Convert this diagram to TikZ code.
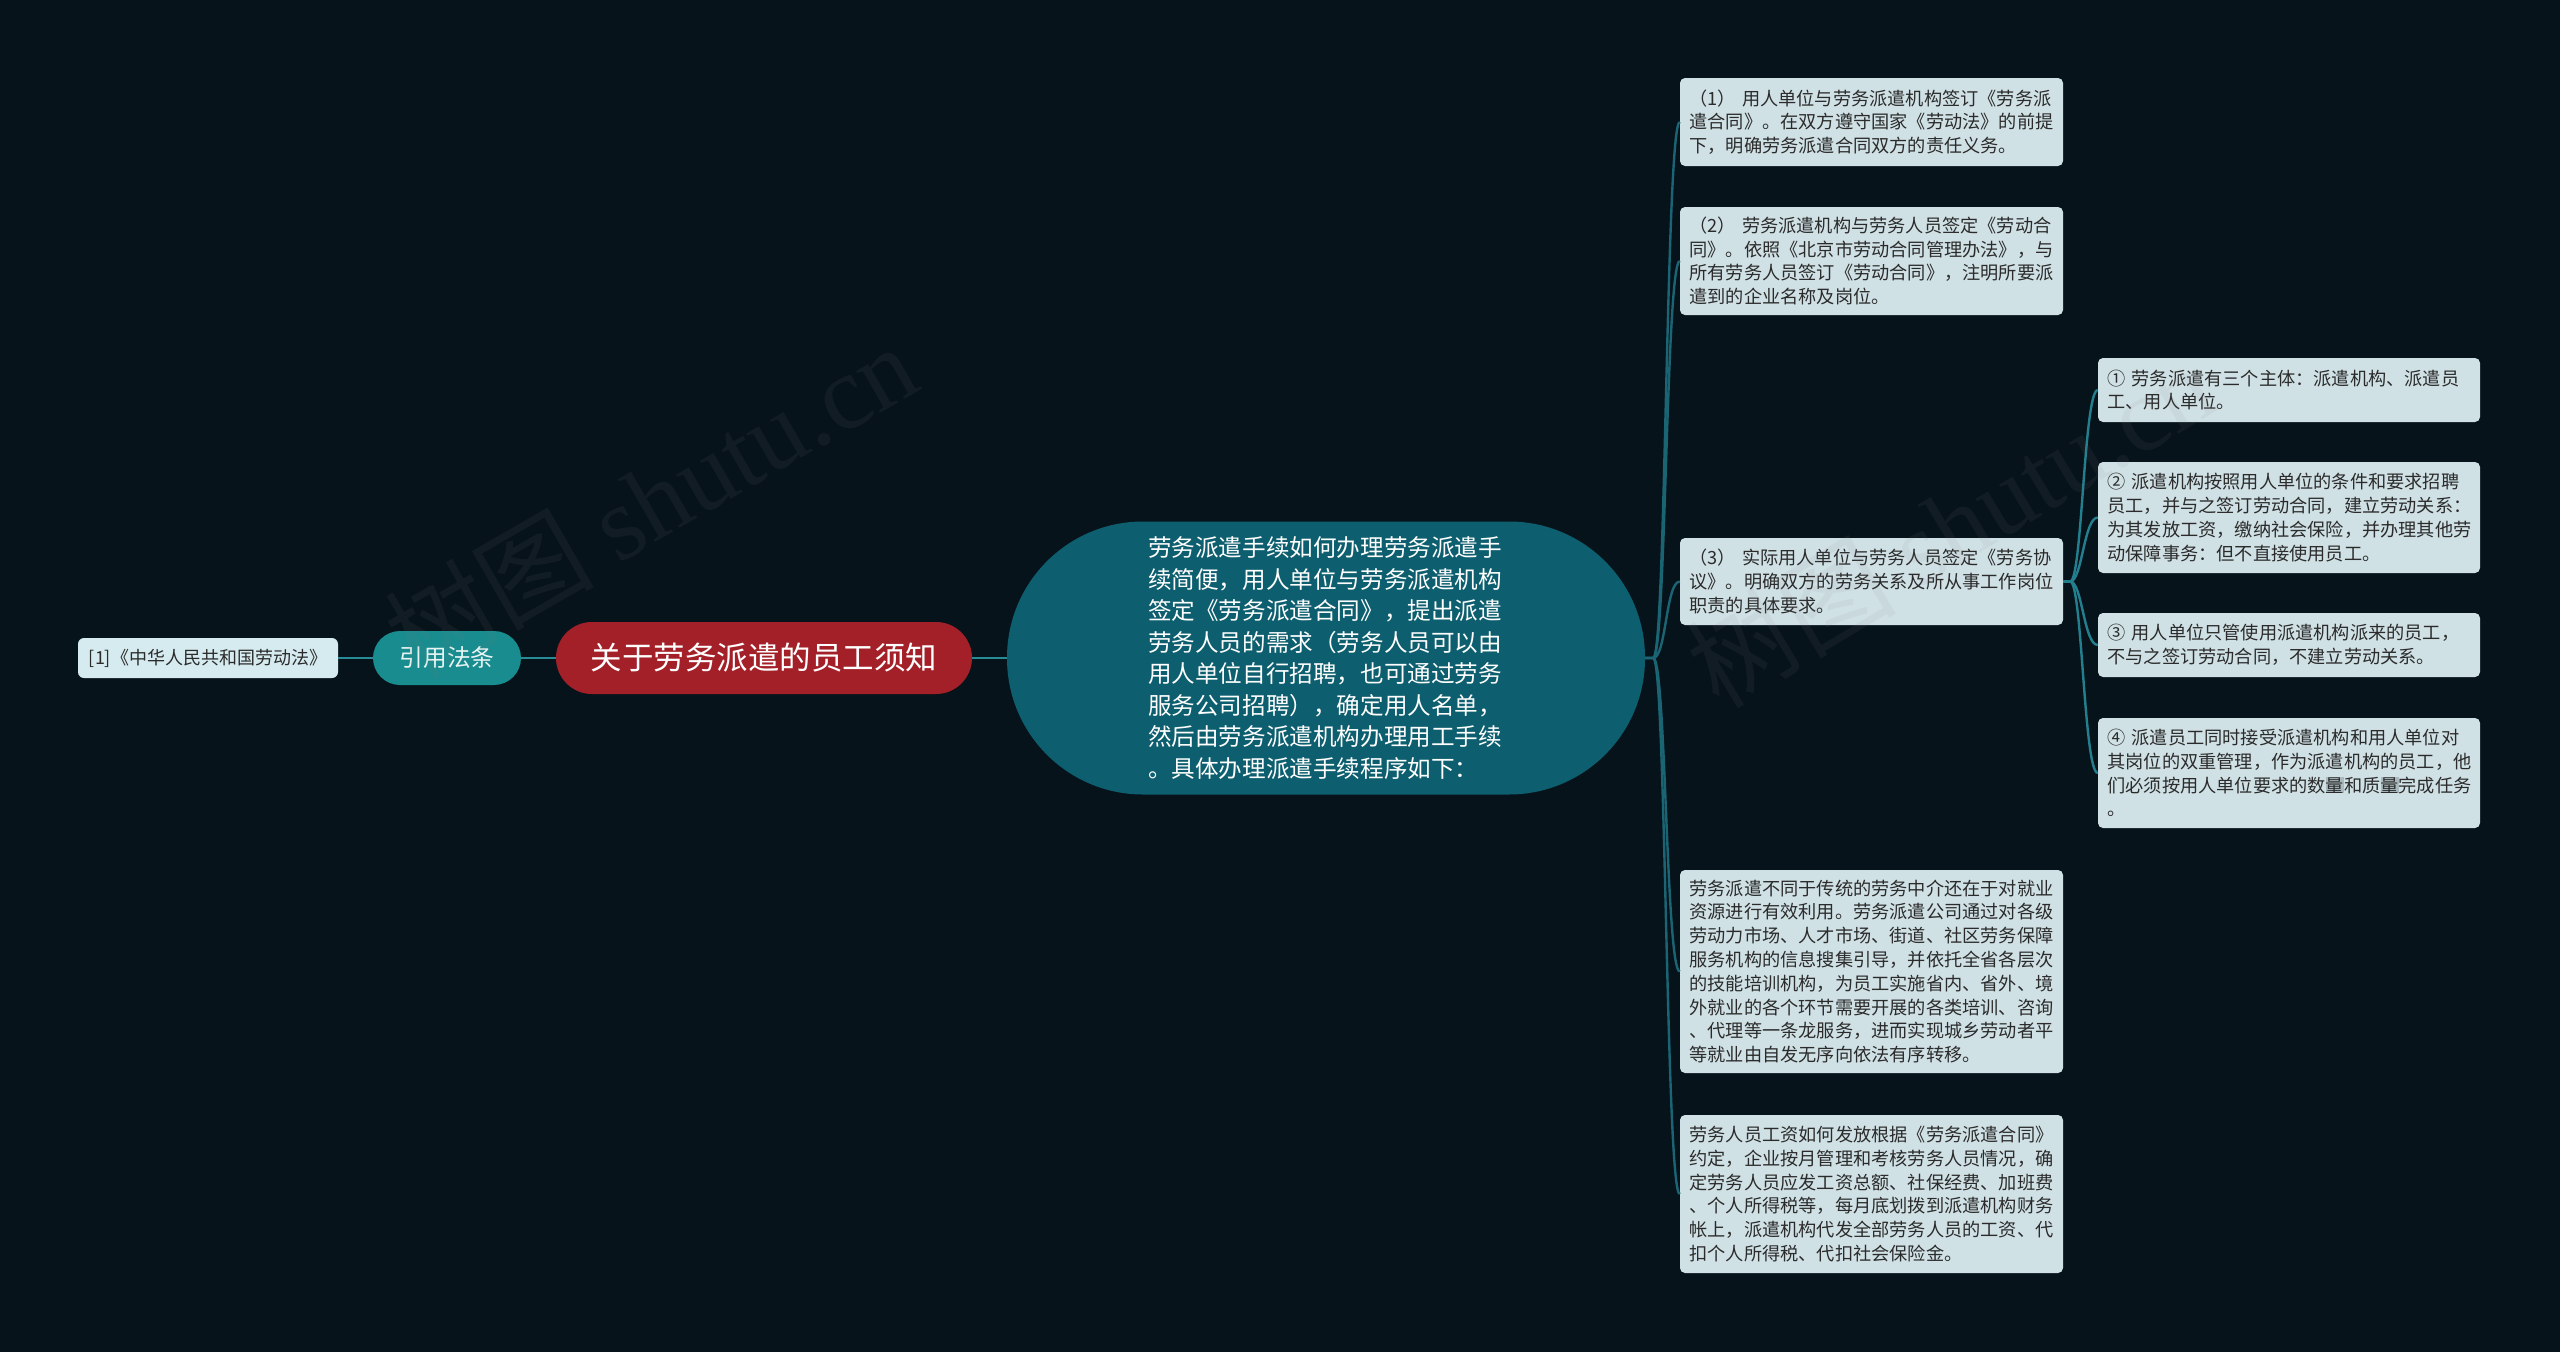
\documentclass[tikz,border=0pt]{standalone}
\usepackage{fontspec}
\setmainfont{Noto Sans CJK SC}
\newfontfamily\cjk{Noto Sans CJK SC}
\newfontfamily\wmserif{Liberation Serif}
\usetikzlibrary{calc}
\definecolor{bgc}{HTML}{07131B}
\definecolor{boxc}{HTML}{D0E1E6}
\definecolor{leafc}{HTML}{D6EBEF}
\definecolor{citec}{HTML}{188C8F}
\definecolor{rootc}{HTML}{A32028}
\definecolor{mainc}{HTML}{0D5E6E}
\definecolor{connl}{HTML}{288C96}
\definecolor{connr}{HTML}{1B6474}
\definecolor{connc}{HTML}{237F8E}
\definecolor{txtc}{HTML}{2B2B2B}
\definecolor{hlc}{HTML}{A9B9BD}
\newcommand{\hlq}{{\setlength{\fboxsep}{0pt}\colorbox{hlc}{量}}}
\tikzset{
  x=1pt, y=1pt,
  rbox/.style={rectangle, rounded corners=5pt, fill=boxc, text=txtc,
    text width=364pt, align=left, inner xsep=9.5pt, inner ysep=0pt,
    font=\fontsize{18.2}{23.8}\selectfont},
  leafbox/.style={rectangle, rounded corners=6pt, fill=leafc, text=txtc,
    minimum width=260pt, minimum height=40pt, inner sep=0pt,
    font=\fontsize{18}{22}\selectfont},
  citebox/.style={rectangle, rounded corners=27pt, fill=citec, text=white!90!citec,
    minimum width=148pt, minimum height=54pt, inner sep=0pt,
    font=\fontsize{23.7}{28}\selectfont},
  rootbox/.style={rectangle, rounded corners=36pt, fill=rootc, text=white,
    minimum width=416pt, minimum height=72pt, inner sep=0pt,
    font=\fontsize{31.5}{36}\selectfont},
  mainbox/.style={rectangle, rounded corners=136pt, fill=mainc, text=white,
    minimum width=638pt, minimum height=273pt, inner sep=0pt,
    text width=356pt, align=left,
    font=\fontsize{23.6}{31.5}\selectfont},
  connL/.style={draw=connl, line width=2.6pt},
  connR/.style={draw=connr, line width=2.4pt},
  connC/.style={draw=connc, line width=2.4pt},
  wm/.style={text=gray, opacity=0.09, inner sep=0pt}
}
\begin{document}
\begin{tikzpicture}
\useasboundingbox (0,0) rectangle (2560,-1352);
\fill[bgc] (0,0) rectangle (2560,-1352);

% left part
\node[leafbox] (leaf) at (208,-658) {[1]《中华人民共和国劳动法》};
\node[citebox] (cite) at (447,-658) {引用法条};
\node[rootbox] (root) at (764,-658) {关于劳务派遣的员工须知};
\node[mainbox] (main) at (1326,-658) {劳务派遣手续如何办理劳务派遣手\\续简便，用人单位与劳务派遣机构\\签定《劳务派遣合同》，提出派遣\\劳务人员的需求（劳务人员可以由\\用人单位自行招聘，也可通过劳务\\服务公司招聘），确定用人名单，\\然后由劳务派遣机构办理用工手续\\。具体办理派遣手续程序如下：};

% right boxes
\node[rbox, minimum height=88pt] (b1) at (1871.5,-122) {（1） 用人单位与劳务派遣机构签订《劳务派\\遣合同》。在双方遵守国家《劳动法》的前提\\下，明确劳务派遣合同双方的责任义务。};
\node[rbox, minimum height=108pt] (b2) at (1871.5,-261) {（2） 劳务派遣机构与劳务人员签定《劳动合\\同》。依照《北京市劳动合同管理办法》，与\\所有劳务人员签订《劳动合同》，注明所要派\\遣到的企业名称及岗位。};
\node[rbox, minimum height=87pt] (b3) at (1871.5,-581.5) {（3） 实际用人单位与劳务人员签定《劳务协\\议》。明确双方的劳务关系及所从事工作岗位\\职责的具体要求。};
\node[rbox, minimum height=203pt] (b4) at (1871.5,-971.5) {劳务派遣不同于传统的劳务中介还在于对就业\\资源进行有效利用。劳务派遣公司通过对各级\\劳动力市场、人才市场、街道、社区劳务保障\\服务机构的信息搜集引导，并依托全省各层次\\的技能培训机构，为员工实施省内、省外、境\\外就业的各个环节需要开展的各类培训、咨询\\、代理等一条龙服务，进而实现城乡劳动者平\\等就业由自发无序向依法有序转移。};
\node[rbox, minimum height=158pt] (b5) at (1871.5,-1194) {劳务人员工资如何发放根据《劳务派遣合同》\\约定，企业按月管理和考核劳务人员情况，确\\定劳务人员应发工资总额、社保经费、加班费\\、个人所得税等，每月底划拨到派遣机构财务\\帐上，派遣机构代发全部劳务人员的工资、代\\扣个人所得税、代扣社会保险金。};

% children of b3
\node[rbox, text width=363pt, minimum height=64pt] (c1) at (2289,-390) {① 劳务派遣有三个主体：派遣机构、派遣员\\工、用人单位。};
\node[rbox, text width=363pt, minimum height=111pt] (c2) at (2289,-517.5) {② 派遣机构按照用人单位的条件和要求招聘\\员工，并与之签订劳动合同，建立劳动关系：\\为其发放工资，缴纳社会保险，并办理其他劳\\动保障事务：但不直接使用员工。};
\node[rbox, text width=363pt, minimum height=64pt] (c3) at (2289,-645) {③ 用人单位只管使用派遣机构派来的员工，\\不与之签订劳动合同，不建立劳动关系。};
\node[rbox, text width=363pt, minimum height=110pt] (c4) at (2289,-773) {④ 派遣员工同时接受派遣机构和用人单位对\\其岗位的双重管理，作为派遣机构的员工，他\\们必须按用人单位要求的数\hlq{}和质\hlq{}完成任务\\。};

% connectors
\draw[connL] (leaf.east) -- (cite.west);
\draw[connL] (cite.east) -- (root.west);
\draw[connL] (root.east) -- (main.west);

\foreach \t in {b1,b2,b3,b4,b5}{
  \draw[connR] (main.east) -- ([xshift=8pt]main.east)
    .. controls ([xshift=21pt]main.east) and ([xshift=-14pt]\t.west) .. (\t.west);
}
\foreach \t in {c1,c2,c3,c4}{
  \draw[connC] (b3.east) -- ([xshift=7pt]b3.east)
    .. controls ([xshift=19pt]b3.east) and ([xshift=-14pt]\t.west) .. (\t.west);
}

% watermarks
\node[wm, rotate=30, font=\fontsize{105}{110}\selectfont] (wm1) at (650,-500) {\cjk 树图 \wmserif shutu.cn};
\node[wm, rotate=31, font=\fontsize{105}{110}\selectfont] (wm2) at (1950,-525) {\cjk 树图 \wmserif shutu.cn};
\end{tikzpicture}
\end{document}
